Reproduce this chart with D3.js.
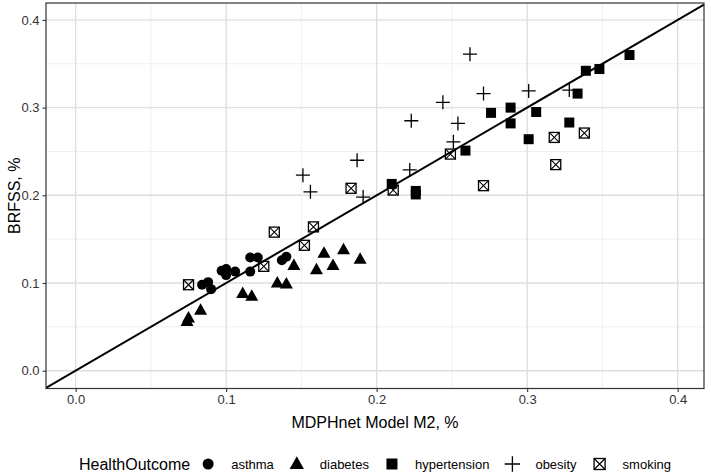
<!DOCTYPE html>
<html><head><meta charset="utf-8">
<script src="https://cdn.jsdelivr.net/npm/d3@7"></script>
<style>body{margin:0;background:#fff}svg{display:block;font-family:"Liberation Sans",Arial,Helvetica,sans-serif}</style>
</head><body><svg id="c" width="711" height="473"></svg>
<script>
const categories = ["asthma","diabetes","hypertension","obesity","smoking"];
const asthma = [[0.084,0.098],[0.088,0.101],[0.090,0.093],[0.097,0.114],[0.100,0.116],[0.100,0.109],[0.106,0.113],[0.116,0.129],[0.121,0.129],[0.116,0.113],[0.137,0.126],[0.140,0.130]];
const diabetes = [[0.074,0.056],[0.075,0.060],[0.083,0.069],[0.111,0.088],[0.117,0.085],[0.134,0.100],[0.140,0.099],[0.145,0.120],[0.160,0.115],[0.165,0.134],[0.171,0.120],[0.178,0.138],[0.189,0.127]];
const hypertension = [[0.210,0.213],[0.226,0.205],[0.226,0.201],[0.259,0.251],[0.276,0.294],[0.289,0.300],[0.289,0.282],[0.306,0.295],[0.301,0.264],[0.328,0.283],[0.3335,0.316],[0.339,0.342],[0.348,0.344],[0.368,0.360]];
const obesity = [[0.151,0.223],[0.156,0.204],[0.187,0.240],[0.191,0.198],[0.222,0.229],[0.223,0.285],[0.244,0.306],[0.251,0.261],[0.254,0.282],[0.262,0.361],[0.271,0.316],[0.301,0.319],[0.328,0.320]];
const smoking = [[0.075,0.098],[0.125,0.119],[0.132,0.158],[0.152,0.143],[0.158,0.164],[0.183,0.208],[0.211,0.206],[0.249,0.247],[0.271,0.211],[0.318,0.266],[0.319,0.235],[0.338,0.271]];
const xTicks = [0.0,0.1,0.2,0.3,0.4];
const yTicks = [0.0,0.1,0.2,0.3,0.4];
const xMinor = [0.05,0.15,0.25,0.35];
const yMinor = [0.05,0.15,0.25,0.35];
const xDomain = [-0.0197,0.4175];
const yDomain = [-0.0203,0.4193];

const series = {asthma,diabetes,hypertension,obesity,smoking};
const svg = d3.select("#c");
const L=46,R=704,T=3,B=388.5;
const x = d3.scaleLinear().domain(xDomain).range([L,R]);
const y = d3.scaleLinear().domain(yDomain).range([B,T]);

const g = svg.append("g");
g.selectAll(".xm").data(xMinor).join("line").attr("x1",d=>x(d)).attr("x2",d=>x(d)).attr("y1",T).attr("y2",B).attr("stroke","#ebebeb").attr("stroke-width",0.8);
g.selectAll(".ym").data(yMinor).join("line").attr("y1",d=>y(d)).attr("y2",d=>y(d)).attr("x1",L).attr("x2",R).attr("stroke","#ebebeb").attr("stroke-width",0.8);
g.selectAll(".xM").data(xTicks).join("line").attr("x1",d=>x(d)).attr("x2",d=>x(d)).attr("y1",T).attr("y2",B).attr("stroke","#dedede").attr("stroke-width",1.4);
g.selectAll(".yM").data(yTicks).join("line").attr("y1",d=>y(d)).attr("y2",d=>y(d)).attr("x1",L).attr("x2",R).attr("stroke","#dedede").attr("stroke-width",1.4);

function drawShape(sel, cat, cx, cy, s){
  s = s||1;
  if(cat==="asthma") sel.append("circle").attr("cx",cx).attr("cy",cy).attr("r",5*s).attr("fill","#000");
  else if(cat==="diabetes") sel.append("path").attr("d",`M${cx},${cy-7*s}L${cx+6.5*s},${cy+4.5*s}L${cx-6.5*s},${cy+4.5*s}Z`).attr("fill","#000");
  else if(cat==="hypertension") sel.append("rect").attr("x",cx-5*s).attr("y",cy-5*s).attr("width",10*s).attr("height",10*s).attr("fill","#000");
  else if(cat==="obesity") sel.append("path").attr("d",`M${cx-7*s},${cy}H${cx+7*s}M${cx},${cy-7*s}V${cy+7*s}`).attr("stroke","#000").attr("stroke-width",1.3).attr("fill","none");
  else { sel.append("rect").attr("x",cx-5*s).attr("y",cy-5*s).attr("width",10*s).attr("height",10*s).attr("fill","none").attr("stroke","#000").attr("stroke-width",1.3);
    sel.append("path").attr("d",`M${cx-5*s},${cy-5*s}L${cx+5*s},${cy+5*s}M${cx+5*s},${cy-5*s}L${cx-5*s},${cy+5*s}`).attr("stroke","#000").attr("stroke-width",1.1); }
}
svg.append("clipPath").attr("id","cp").append("rect").attr("x",L).attr("y",T).attr("width",R-L).attr("height",B-T);
const pg = svg.append("g");
categories.forEach(cat=>{
  series[cat].forEach(p=>drawShape(pg,cat,x(p[0]),y(p[1])));
});
svg.append("line").attr("clip-path","url(#cp)").attr("x1",x(xDomain[0])).attr("y1",y(xDomain[0])).attr("x2",x(xDomain[1])).attr("y2",y(xDomain[1])).attr("stroke","#000").attr("stroke-width",2);

svg.append("rect").attr("x",L).attr("y",T).attr("width",R-L).attr("height",B-T).attr("fill","none").attr("stroke","#333").attr("stroke-width",1.2);

const xa = svg.append("g").attr("transform",`translate(0,${B})`).call(d3.axisBottom(x).tickValues(xTicks).tickFormat(d3.format(".1f")).tickSize(3.5).tickPadding(3));
const ya = svg.append("g").attr("transform",`translate(${L},0)`).call(d3.axisLeft(y).tickValues(yTicks).tickFormat(d3.format(".1f")).tickSize(3.5).tickPadding(3));
[xa,ya].forEach(a=>{a.select(".domain").remove();a.selectAll(".tick line").attr("stroke","#333").attr("stroke-width",1.1);
  a.selectAll("text").attr("fill","#333").style("font-size","13px").style("font-family","Liberation Sans, Arial, sans-serif");});

svg.append("text").attr("x",(L+R)/2).attr("y",428).attr("text-anchor","middle").style("font-size","16px").text("MDPHnet Model M2, %");
svg.append("text").attr("transform",`translate(20,${(T+B)/2}) rotate(-90)`).attr("text-anchor","middle").style("font-size","16px").text("BRFSS, %");

const lg = svg.append("g");
const ly = 464;
const title = lg.append("text").attr("x",0).attr("y",ly+5.5).style("font-size","16px").text("HealthOutcome");
let cx = title.node().getComputedTextLength()+18;
categories.forEach((cat,i)=>{
  drawShape(lg,cat,cx,ly,1.1);
  const t = lg.append("text").attr("x",cx+23).attr("y",ly+4.5).style("font-size","13px").text(cat);
  const end = cx+23+t.node().getComputedTextLength();
  cx = end + 23;
  if(i===categories.length-1) lg.attr("data-end",end);
});
const total = +lg.attr("data-end");
lg.attr("transform",`translate(${(L+R)/2 - total/2},0)`);
</script></body></html>
